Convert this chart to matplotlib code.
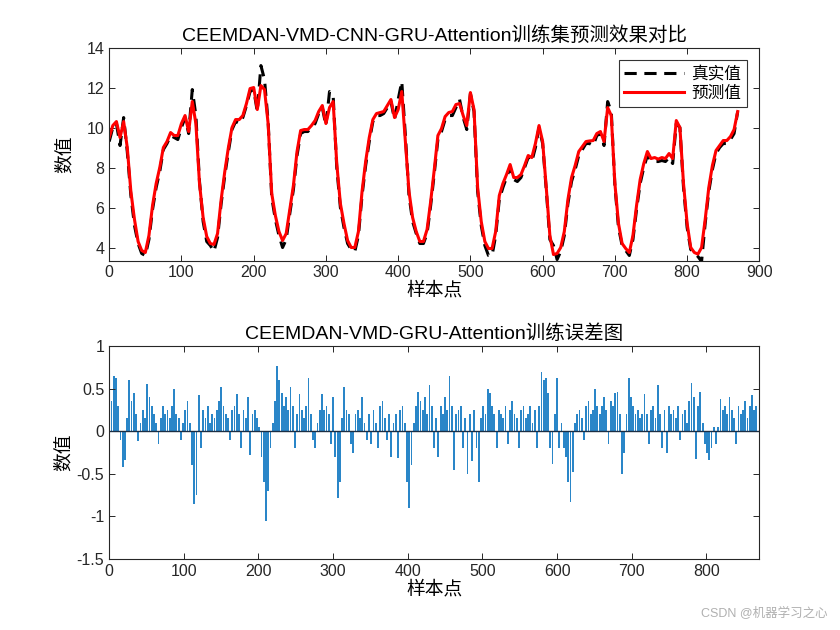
import numpy as np
import matplotlib
matplotlib.use("Agg")
import matplotlib.pyplot as plt
from matplotlib.ticker import FormatStrFormatter

plt.rcParams['font.family'] = ['Liberation Sans', 'Noto Sans CJK SC']
plt.rcParams['axes.unicode_minus'] = False

# sample points every 5 steps (top chart)
true_vals = [
    9.3, 10.0, 10.2, 9.1, 10.5, 8.8, 6.6, 5.1, 4.2, 3.7,
    3.6, 4.4, 5.9, 7.0, 7.8, 8.9, 9.2, 9.6, 9.5, 9.4,
    10.0, 10.5, 9.7, 11.9, 10.6, 7.3, 5.3, 4.3, 4.1, 3.8,
    4.5, 6.2, 7.6, 8.8, 9.9, 10.3, 10.2, 10.5, 11.1, 11.8,
    11.9, 10.8, 13.1, 12.4, 10.3, 6.5, 5.4, 4.6, 4.0, 4.4,
    5.7, 6.9, 8.6, 9.7, 9.8, 9.8, 10.0, 10.2, 10.7, 11.0,
    10.1, 11.8, 11.6, 8.0, 6.0, 5.0, 4.2, 3.9, 3.8, 4.6,
    6.6, 8.1, 9.3, 10.3, 10.6, 10.6, 10.7, 11.0, 11.3, 10.4,
    11.4, 12.3, 9.6, 6.6, 5.3, 4.7, 4.2, 4.2, 4.7, 6.1,
    7.7, 9.4, 9.8, 10.4, 10.6, 10.6, 11.0, 11.4, 10.5, 9.9,
    11.7, 10.8, 6.8, 5.1, 4.1, 3.6, 3.6, 4.6, 6.4, 7.0,
    7.5, 8.0, 7.4, 7.3, 7.5, 8.0, 8.5, 8.3, 9.0, 10.0,
    9.2, 6.9, 4.4, 4.1, 3.4, 3.8, 4.6, 6.2, 7.3, 7.9,
    8.6, 8.9, 9.2, 9.2, 9.1, 9.6, 9.7, 9.1, 11.3, 10.8,
    7.1, 5.0, 4.1, 3.85, 3.6, 4.4, 5.9, 7.2, 8.0, 8.6,
    8.35, 8.3, 8.3, 8.35, 8.3, 8.5, 8.2, 10.2, 10.0, 7.0,
    5.0, 3.9, 3.7, 3.55, 3.3, 5.2, 6.8, 7.9, 8.7, 9.0,
    9.2, 9.2, 9.4, 9.7, 10.8,
]
pred_vals = [
    9.5, 10.1, 10.3, 9.5, 10.3, 9.0, 6.8, 5.4, 4.3, 3.85,
    3.75, 4.6, 6.1, 7.2, 8.0, 9.0, 9.3, 9.75, 9.6, 9.6,
    10.2, 10.6, 9.8, 11.3, 10.2, 7.2, 5.5, 4.55, 4.2, 4.15,
    4.7, 6.4, 7.8, 9.0, 10.0, 10.4, 10.4, 10.6, 11.2, 11.95,
    12.0, 10.9, 12.1, 11.9, 10.2, 6.7, 5.6, 4.8, 4.35, 4.7,
    5.9, 7.1, 8.8, 9.85, 9.9, 9.9, 10.1, 10.35, 10.8, 11.1,
    10.2, 11.0, 11.3, 8.2, 6.2, 5.2, 4.35, 4.0, 4.0, 4.8,
    6.8, 8.3, 9.5, 10.4, 10.7, 10.75, 10.8, 11.1, 11.4, 10.5,
    10.9, 11.8, 9.3, 6.8, 5.5, 4.8, 4.3, 4.3, 4.9, 6.3,
    7.9, 9.6, 9.95, 10.55, 10.75, 10.8, 11.15, 11.2, 10.6, 10.1,
    11.75, 10.9, 7.0, 5.3, 4.3, 3.95, 3.95, 4.8, 6.6, 7.2,
    7.65, 8.15, 7.5, 7.5, 7.65, 8.1, 8.6, 8.5, 9.2, 10.1,
    9.3, 7.0, 4.6, 3.65, 3.7, 4.0, 4.8, 6.4, 7.5, 8.1,
    8.8, 9.05, 9.3, 9.33, 9.35, 9.7, 9.8, 9.3, 11.0, 10.6,
    7.2, 5.2, 4.2, 3.95, 3.75, 4.6, 6.1, 7.4, 8.2, 8.8,
    8.45, 8.5, 8.42, 8.5, 8.45, 8.7, 8.45, 10.35, 10.0, 7.2,
    5.2, 4.0, 3.75, 3.67, 4.0, 5.4, 7.0, 8.1, 8.85, 9.1,
    9.35, 9.35, 9.55, 9.9, 10.8,
]
x_top = np.arange(0, 5 * len(true_vals), 5)

# training error every 3 samples (bottom chart)
err_vals = [
    -0.15, 0.35, 0.65, 0.62, 0.3, -0.1, -0.42, -0.34, 0.15, 0.6,
    0.35, 0.45, 0.2, -0.12, 0.1, 0.25, 0.15, 0.56, 0.4, 0.3,
    0.2, 0.1, -0.15, 0.15, 0.3, 0.2, 0.25, 0.15, 0.3, 0.5,
    0.2, 0.15, -0.1, 0.1, 0.25, 0.35, 0.1, -0.4, -0.85, -0.75,
    0.43, -0.2, 0.25, 0.15, 0.3, 0.1, 0.2, 0.15, 0.25, 0.35,
    0.52, 0.3, 0.2, 0.15, -0.1, 0.25, 0.3, 0.44, 0.2, -0.2,
    0.25, 0.15, 0.4, -0.28, 0.2, 0.25, 0.15, 0.05, -0.3, -0.6,
    -1.05, -0.7, -0.2, 0.1, 0.35, 0.77, 0.6, 0.45, 0.3, 0.4,
    0.25, 0.52, 0.3, -0.2, 0.2, 0.44, 0.25, 0.15, 0.3, 0.62,
    0.2, -0.1, -0.2, 0.1, 0.25, 0.44, 0.25, 0.3, 0.2, -0.15,
    0.4, -0.3, -0.78, -0.6, 0.15, 0.52, 0.25, 0.2, -0.15, -0.25,
    0.2, 0.25, 0.15, 0.4, 0.1, -0.1, 0.2, -0.15, 0.25, 0.1,
    -0.2, 0.3, 0.36, 0.15, -0.1, 0.2, -0.3, 0.1, 0.2, -0.32,
    0.25, 0.3, 0.1, -0.6, -0.9, -0.4, 0.1, 0.3, 0.46, 0.35,
    0.25, 0.4, 0.2, 0.54, 0.3, -0.2, 0.15, -0.3, 0.3, 0.2,
    0.4, 0.25, 0.65, 0.3, -0.45, 0.2, 0.25, 0.3, -0.2, 0.15,
    -0.5, 0.2, -0.35, 0.25, -0.2, -0.6, 0.15, 0.3, 0.2, 0.5,
    0.45, 0.3, 0.2, -0.2, 0.25, 0.2, 0.15, 0.3, -0.15, 0.25,
    0.35, 0.2, 0.15, -0.2, 0.25, 0.3, 0.15, 0.2, 0.3, 0.1,
    0.25, -0.2, 0.3, 0.7, 0.6, 0.62, 0.45, -0.2, -0.38, 0.2,
    0.63, -0.2, 0.1, -0.2, -0.3, -0.6, -0.83, -0.48, 0.1, 0.2,
    0.25, 0.15, -0.1, 0.3, 0.36, 0.2, 0.25, 0.5, 0.3, 0.2,
    0.3, 0.4, 0.25, -0.15, 0.35, 0.3, 0.45, 0.46, 0.2, -0.5,
    -0.25, 0.2, 0.62, 0.4, 0.3, 0.2, 0.25, 0.15, 0.2, 0.44,
    0.2, -0.15, 0.25, 0.3, 0.15, 0.54, 0.2, -0.2, 0.25, -0.25,
    0.3, 0.2, 0.25, 0.15, 0.3, -0.1, 0.2, 0.25, 0.1, 0.35,
    0.57, 0.4, -0.33, 0.3, 0.46, 0.1, -0.15, -0.25, -0.34, -0.2,
    0.05, -0.15, 0.05, 0.38, 0.25, 0.3, 0.2, 0.4, 0.25, 0.15,
    -0.15, 0.3, 0.2, 0.25, 0.35, 0.15, 0.3, 0.43, 0.25, 0.3,
]
x_err = np.arange(0, 3 * len(err_vals), 3)

fig = plt.figure(figsize=(8.4, 6.3), dpi=100)
ax1 = fig.add_axes([0.13, 0.5865, 0.774, 0.338])
ax2 = fig.add_axes([0.13, 0.1127, 0.774, 0.338])

ax1.plot(x_top, true_vals, color='black', linestyle='--', linewidth=2.2, dashes=(4, 2.5), label='真实值')
ax1.plot(x_top, pred_vals, color='red', linewidth=2.2, label='预测值')
ax1.set_xlim(0, 900)
ax1.set_ylim(3.35, 14)
ax1.set_xticks(np.arange(0, 901, 100))
ax1.set_yticks(np.arange(4, 15, 2))
ax1.set_title('CEEMDAN-VMD-CNN-GRU-Attention训练集预测效果对比', fontsize=14, pad=5)
ax1.set_xlabel('样本点', fontsize=13.5, labelpad=1)
ax1.set_ylabel('数值', fontsize=13.5, labelpad=9)
leg = ax1.legend(loc='upper right', fontsize=12, frameon=True, fancybox=False,
                 edgecolor='black', borderaxespad=0.75, handlelength=3.6, borderpad=0.35,
                 labelspacing=0.25, handletextpad=0.4)
leg.get_frame().set_linewidth(0.8)

ax2.bar(x_err, err_vals, width=2.4, color='#2a86c8', linewidth=0)
ax2.axhline(0, color='#1b2f45', linewidth=1.0)
ax2.set_xlim(0, 871)
ax2.set_ylim(-1.5, 1)
ax2.set_xticks(np.arange(0, 801, 100))
ax2.set_yticks(np.arange(-1.5, 1.01, 0.5))
ax2.yaxis.set_major_formatter(FormatStrFormatter('%g'))
ax2.set_title('CEEMDAN-VMD-GRU-Attention训练误差图', fontsize=14, pad=5)
ax2.set_xlabel('样本点', fontsize=13.5, labelpad=1)
ax2.set_ylabel('数值', fontsize=13.5, labelpad=3)

for ax in (ax1, ax2):
    ax.tick_params(direction='in', top=True, right=True, labelsize=11.5,
                   colors='#262626', length=4, width=0.7)
    for s in ax.spines.values():
        s.set_color('#262626')
        s.set_linewidth(0.8)

fig.text(0.985, 0.018, 'CSDN @机器学习之心', ha='right', va='bottom',
         fontsize=9, color='#b0b0b0')

fig.savefig('out.png', dpi=100)
